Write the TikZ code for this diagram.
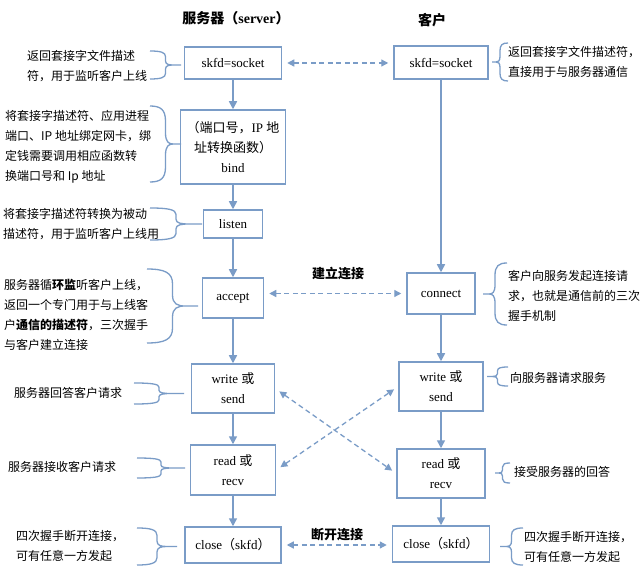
\documentclass[tikz,border=0pt]{standalone}
\usepackage{fontspec}
\setmainfont{Liberation Serif}
\newfontfamily\cjk{Noto Sans CJK SC}
\usetikzlibrary{arrows.meta}
\definecolor{lineblue}{RGB}{122,156,199}

\tikzset{
	lbr/.pic={
		\draw[lineblue, line width=1.3pt] (0,-1) .. controls (0.35,-1) and (0.5,-0.9) .. (0.5,-0.6) -- (0.5,-0.3) .. controls (0.5,-0.05) and (0.6,0) .. (0.75,0) -- (1,0) -- (0.75,0) .. controls (0.6,0) and (0.5,0.05) .. (0.5,0.3) -- (0.5,0.6) .. controls (0.5,0.9) and (0.35,1) .. (0,1);
	}
}

\begin{document}
\begin{tikzpicture}[x=1pt, y=-1pt,
	box/.style={draw=lineblue, line width=1.5pt, fill=white, align=center, inner sep=0pt, font=\fontsize{13}{20}\selectfont},
	note/.style={anchor=west, align=left, inner sep=0pt, font=\cjk\fontsize{12}{20}\selectfont},
	head/.style={font=\cjk\bfseries\fontsize{14}{16}\selectfont},
	flow/.style={-{Triangle[length=8pt, width=8pt]}, lineblue, line width=1.6pt},
	link/.style={{Triangle[length=7pt, width=7pt]}-{Triangle[length=7pt, width=7pt]}, lineblue, line width=1.3pt, dash pattern=on 5pt off 3.5pt, shorten <=5pt, shorten >=5pt}
]
				\fill[white] (0,0) rectangle (643,577);
				\useasboundingbox (0,0) rectangle (643,577);

				% titles
				\node[head] (stitle)at(236, 18) {服务器（{\rmfamily server}）};
				\node[head] (ctitle)at(432, 20) {客户};

				% server side
				\node[box, minimum width=97pt, minimum height=32pt] (ssock)at(233, 63) {skfd=socket};
				\node[box, minimum width=105pt, minimum height=74pt] (sbind)at(233, 147) {{\cjk （端口号，}IP {\cjk 地}\\{\cjk 址转换函数）}\\bind};
				\node[box, minimum width=59pt, minimum height=28pt] (slisten)at(233, 224) {listen};
				\node[box, minimum width=61pt, minimum height=40pt] (saccept)at(233, 298) {accept};
				\node[box, minimum width=83pt, minimum height=49pt] (swrite)at(233, 388.5) {write {\cjk 或}\\send};
				\node[box, minimum width=85pt, minimum height=50pt] (sread)at(233, 470) {read {\cjk 或}\\recv};
				\node[box, minimum width=96pt, minimum height=36pt] (sclose)at(233, 545) {close{\cjk （}skfd{\cjk ）}};

				% client side
				\node[box, minimum width=94pt, minimum height=33pt] (csock)at(441, 62.5) {skfd=socket};
				\node[box, minimum width=68pt, minimum height=41pt] (cconnect)at(441, 293.5) {connect};
				\node[box, minimum width=84pt, minimum height=49pt] (cwrite)at(441, 386.5) {write {\cjk 或}\\send};
				\node[box, minimum width=88pt, minimum height=49pt] (cread)at(441, 473.5) {read {\cjk 或}\\recv};
				\node[box, minimum width=97pt, minimum height=36pt] (cclose)at(441, 544) {close{\cjk （}skfd{\cjk ）}};

				\draw[flow] (ssock) -- (sbind);
				\draw[flow] (sbind) -- (slisten);
				\draw[flow] (slisten) -- (saccept);
				\draw[flow] (saccept) -- (swrite);
				\draw[flow] (swrite) -- (sread);
				\draw[flow] (sread) -- (sclose);
				\draw[flow] (csock) -- (cconnect);
				\draw[flow] (cconnect) -- (cwrite);
				\draw[flow] (cwrite) -- (cread);
				\draw[flow] (cread) -- (cclose);

				% between the two sides
				\draw[link] (ssock.east) -- (csock.west |- ssock.east);
				\draw[link] (saccept.east |- cconnect.west) -- (cconnect.west);
				\draw[link] (swrite.east) -- (cread.west);
				\draw[link] (sread.east) -- (cwrite.west);
				\draw[link] (sclose.east) -- (cclose.west |- sclose.east);
				\node[font=\cjk\bfseries\fontsize{13}{15}\selectfont] (setup)at(338, 274) {建立连接};
				\node[font=\cjk\bfseries\fontsize{13}{15}\selectfont] (teardown)at(337, 535) {断开连接};

				% notes, server
				\node[note] (n1)at(27, 66.5) {返回套接字文件描述\\符，用于监听客户上线};
				\node[note] (n2)at(5, 147) {将套接字描述符、应用进程\\端口、IP 地址绑定网卡，绑\\定钱需要调用相应函数转\\换端口号和 Ip 地址};
				\node[note] (n3)at(3, 224) {将套接字描述符转换为被动\\描述符，用于监听客户上线用};
				\node[note] (n4)at(4, 315) {服务器循\textbf{环监}听客户上线，\\返回一个专门用于与上线客\\户\textbf{通信的描述符}，三次握手\\与客户建立连接};
				\node[note] (n5)at(14, 393) {服务器回答客户请求};
				\node[note] (n6)at(8, 467) {服务器接收客户请求};
				\node[note] (n7)at(16, 545.5) {四次握手断开连接，\\可有任意一方发起};
				\pic[shift={(150,65)}, xscale=31, yscale=14] {lbr};
				\pic[shift={(150,144)}, xscale=31, yscale=38] {lbr};
				\pic[shift={(150,224)}, xscale=52, yscale=16] {lbr};
				\pic[shift={(147,306)}, xscale=51, yscale=37] {lbr};
				\pic[shift={(134,393.5)}, xscale=50, yscale=10.5] {lbr};
				\pic[shift={(137,468)}, xscale=48, yscale=10] {lbr};
				\pic[shift={(137,546.5)}, xscale=40, yscale=18.5] {lbr};

				% notes, client
				\node[note] (m1)at(508, 62) {返回套接字文件描述符，\\直接用于与服务器通信};
				\node[note] (m2)at(508, 295.5) {客户向服务发起连接请\\求，也就是通信前的三次\\握手机制};
				\node[note] (m3)at(510, 378) {向服务器请求服务};
				\node[note] (m4)at(514, 472) {接受服务器的回答};
				\node[note] (m5)at(524, 547) {四次握手断开连接，\\可有任意一方发起};
				\pic[shift={(508,62)}, xscale=-16, yscale=19] {lbr};
				\pic[shift={(507,294)}, xscale=-24, yscale=31] {lbr};
				\pic[shift={(508,376.5)}, xscale=-21, yscale=9.5] {lbr};
				\pic[shift={(510,473)}, xscale=-15, yscale=10] {lbr};
				\pic[shift={(523,546.5)}, xscale=-23, yscale=18.5] {lbr};
\end{tikzpicture}
\end{document}
